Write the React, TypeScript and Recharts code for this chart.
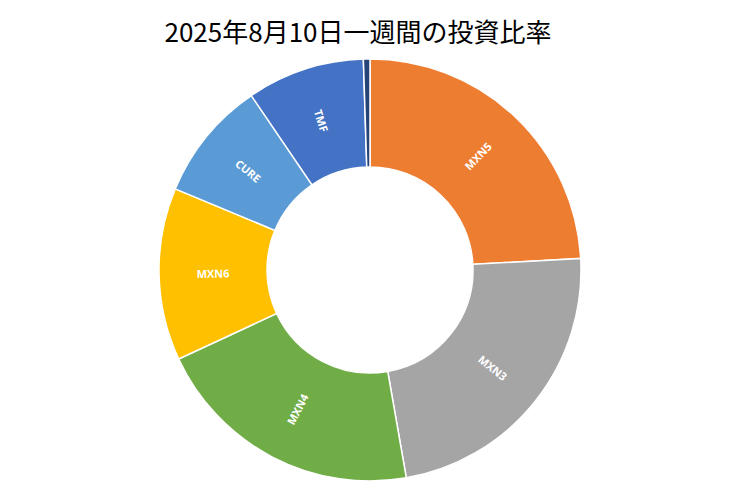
import { PieChart, Pie, Cell } from 'recharts';

const names = ['MXN5', 'MXN3', 'MXN4', 'MXN6', 'CURE', 'TMF', 'その他'];
const shares = [24.1, 23.1, 20.8, 13.2, 9.2, 9.0, 0.5];
const colors = ['#ED7D31', '#A5A5A5', '#70AD47', '#FFC000', '#5B9BD5', '#4472C4', '#264478'];
const showLabel = [true, true, true, true, true, true, false];

const data = names.map((name, i) => ({ name, value: shares[i] }));

const RADIAN = Math.PI / 180;

// labels sit in the middle of the ring, turned along the radius
const renderLabel = ({ cx, cy, midAngle, innerRadius, outerRadius, index }: any) => {
  if (!showLabel[index]) return null;
  const r = (innerRadius + outerRadius) / 2;
  const x = cx + r * Math.cos(-midAngle * RADIAN);
  const y = cy + r * Math.sin(-midAngle * RADIAN);
  let rot = -midAngle;
  while (rot > 90) rot -= 180;
  while (rot <= -90) rot += 180;
  return (
    <text
      x={x}
      y={y}
      fill="#FFFFFF"
      textAnchor="middle"
      dominantBaseline="central"
      fontSize={11}
      fontWeight={700}
      fontFamily="'Open Sans', 'Noto Sans', sans-serif"
      transform={`rotate(${rot} ${x} ${y})`}
    >
      {names[index]}
    </text>
  );
};

export default function App() {
  return (
    <div style={{ position: 'absolute', left: 0, top: 0, width: 740, height: 493, background: '#fff' }}>
      <div
        style={{
          position: 'absolute',
          left: 0,
          top: 12,
          width: 716,
          textAlign: 'center',
          fontFamily: "'Noto Sans CJK JP', sans-serif",
          fontSize: 26,
          color: '#000',
          lineHeight: '38px',
        }}
      >
        2025年8月10日一週間の投資比率
      </div>
      <PieChart width={740} height={493} margin={{ top: 0, right: 0, bottom: 0, left: 0 }}>
        <Pie
          data={data}
          dataKey="value"
          nameKey="name"
          cx={370}
          cy={270}
          innerRadius={103}
          outerRadius={211}
          startAngle={90}
          endAngle={-270}
          stroke="#FFFFFF"
          strokeWidth={1.5}
          labelLine={false}
          label={renderLabel}
          isAnimationActive={false}
        >
          {data.map((entry, index) => (
            <Cell key={`cell-${index}`} fill={colors[index]} />
          ))}
        </Pie>
      </PieChart>
    </div>
  );
}
